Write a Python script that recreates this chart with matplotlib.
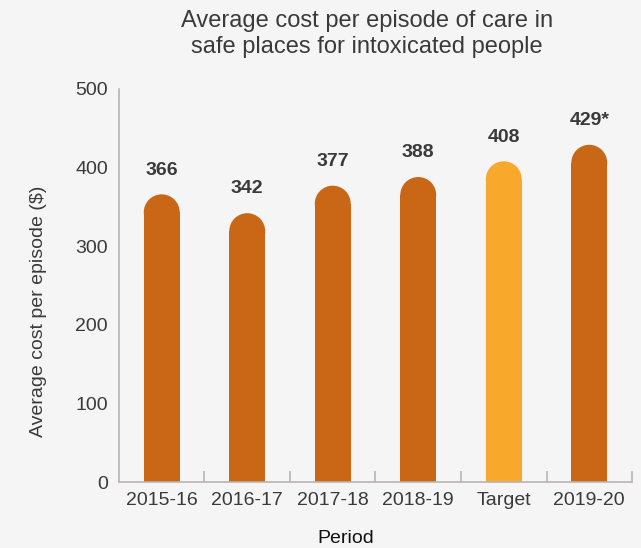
import matplotlib
matplotlib.use("Agg")
import matplotlib.pyplot as plt
from matplotlib.patches import Rectangle, Ellipse

plt.rcParams["font.family"] = ["Liberation Sans", "DejaVu Sans"]

periods = ["2015-16", "2016-17", "2017-18", "2018-19", "Target", "2019-20"]
costs = [366, 342, 377, 388, 408, 429]
value_labels = ["366", "342", "377", "388", "408", "429*"]
is_target = [False, False, False, False, True, False]

BG = "#f5f5f5"
ORANGE = "#c96716"
TARGET = "#f8a82b"
TEXT = "#3a3a3a"
AXIS = "#b8b4b4"
BAR_W = 0.42

fig = plt.figure(figsize=(6.41, 5.48), dpi=100, facecolor=BG)
ax = fig.add_axes([0.1856, 0.1204, 0.8004, 0.7172], facecolor=BG)
ax.set_xlim(-0.5, len(periods) - 0.5)
ax.set_ylim(0, 500)

# radius of the rounded bar top in data units (circular on screen)
x_px = ax.transData.transform((BAR_W, 0))[0] - ax.transData.transform((0, 0))[0]
y_px_per_unit = ax.transData.transform((0, 1))[1] - ax.transData.transform((0, 0))[1]
r_data = (x_px / 2) / y_px_per_unit

for i, (val, lab, tgt) in enumerate(zip(costs, value_labels, is_target)):
    color = TARGET if tgt else ORANGE
    ax.add_patch(Rectangle((i - BAR_W / 2, 0), BAR_W, val - r_data,
                           facecolor=color, edgecolor="none"))
    ax.add_patch(Ellipse((i, val - r_data), BAR_W, 2 * r_data,
                         facecolor=color, edgecolor="none"))
    ax.text(i, val + 20, lab, ha="center", va="bottom", fontsize=14,
            fontweight="bold", color=TEXT)

for side in ("top", "right"):
    ax.spines[side].set_visible(False)
for side in ("left", "bottom"):
    ax.spines[side].set_color(AXIS)
    ax.spines[side].set_linewidth(1.2)

ax.set_yticks(range(0, 501, 100))
ax.tick_params(axis="y", length=0, labelsize=14, labelcolor=TEXT, pad=8)
ax.set_xticks(range(len(periods)))
ax.set_xticklabels(periods)
ax.tick_params(axis="x", length=0, labelsize=14, labelcolor=TEXT, pad=7)

# small upward separators between categories
ax.set_xticks([i + 0.5 for i in range(len(periods))], minor=True)
ax.tick_params(axis="x", which="minor", direction="in", length=8,
               color=AXIS, width=1.2)

fig.text(0.573, 0.938, "Average cost per episode of care in\nsafe places for intoxicated people",
         ha="center", va="center", fontsize=17, color=TEXT, linespacing=1.2)
fig.text(0.060, 0.432, "Average cost per episode ($)", rotation=90,
         ha="center", va="center", fontsize=14, color=TEXT)
fig.text(0.540, 0.017, "Period", ha="center", va="center", fontsize=14, color="#111111")

fig.savefig("out.png", dpi=100, facecolor=BG)
